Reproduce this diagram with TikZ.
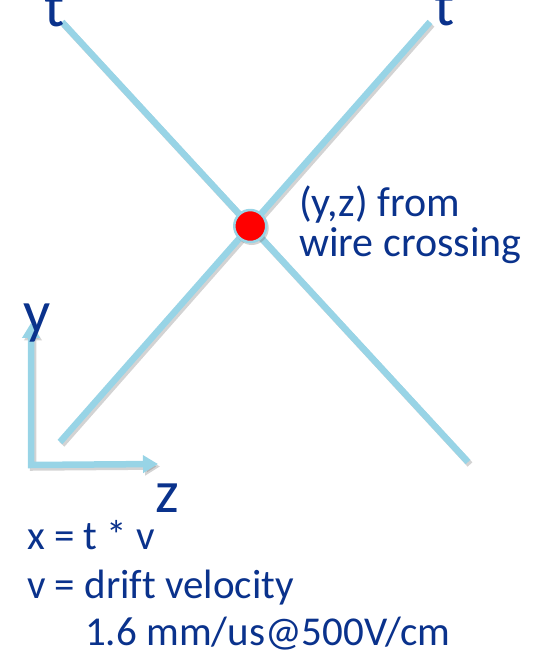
\documentclass[tikz,border=0pt]{standalone}
\usepackage{fontspec}
\setmainfont{Carlito}[Ligatures=NoCommon]
\usetikzlibrary{arrows.meta, positioning, calc}
\definecolor{wireblue}{RGB}{152,212,230}
\definecolor{labelblue}{RGB}{10,50,140}
\definecolor{shadowgray}{RGB}{110,110,110}

\begin{document}
\begin{tikzpicture}[x=1pt, y=1pt, >={Triangle[length=15pt, width=17pt]},
    wire/.style={wireblue, line width=6.5pt},
    wireshadow/.style={shadowgray, opacity=0.3, line width=6.5pt, transform canvas={shift={(2pt,-2.5pt)}}},
    big/.style={labelblue, font=\fontsize{60}{72}\selectfont, inner sep=0pt, anchor=base},
    note/.style={labelblue, font=\fontsize{42}{50}\selectfont, inner sep=0pt, anchor=base west},
    formula/.style={labelblue, font=\fontsize{41}{49}\selectfont, inner sep=0pt, anchor=base west}]
        \useasboundingbox (0,0) rectangle (536,656);
        % Wire ends
        \coordinate (w1a) at (62,634);
        \coordinate (w1b) at (468,194);
        \coordinate (w2a) at (430,634);
        \coordinate (w2b) at (60,214);
        \coordinate (hit) at (intersection of w1a--w1b and w2a--w2b);
        % Wires
        \draw [wireshadow] (w1a) -- (w1b);
        \draw [wireshadow] (w2a) -- (w2b);
        \draw [wire] (w1a) -- (w1b);
        \draw [wire] (w2a) -- (w2b);
        % Time labels
        \node [big] (tleft) at (55,629) {t};
        \node [big] (tright) at (445,630) {t};
        % Crossing point
        \fill [shadowgray, opacity=0.3] ($(hit)+(1.5,-2)$) circle (17pt);
        \filldraw [red, draw=wireblue, line width=2.5pt] (hit) circle (16pt);
        \node [note] (from) at (299,439) {(y,z) from};
        \node [note] (wire) at (299,399) {wire crossing};
        % Axes
        \coordinate (orig) at (31,191);
        \coordinate (ytip) at (31,333);
        \coordinate (ztip) at (158,192);
        \draw [wireshadow, <->] (ytip) -- (orig) -- (ztip);
        \draw [wire, <->] (ytip) -- (orig) -- (ztip);
        \node [big] (ylab) at (37,323) {y};
        \node [big] (zlab) at (167,143) {z};
        % Drift relation
        \node [formula] (xeq) at (27,106) {x = t * v};
        \node [formula] (veq) at (27,57) {v = drift velocity};
        \node [formula] (vval) at (85,10) {1.6 mm/us@500V/cm};
    \end{tikzpicture}
\end{document}
